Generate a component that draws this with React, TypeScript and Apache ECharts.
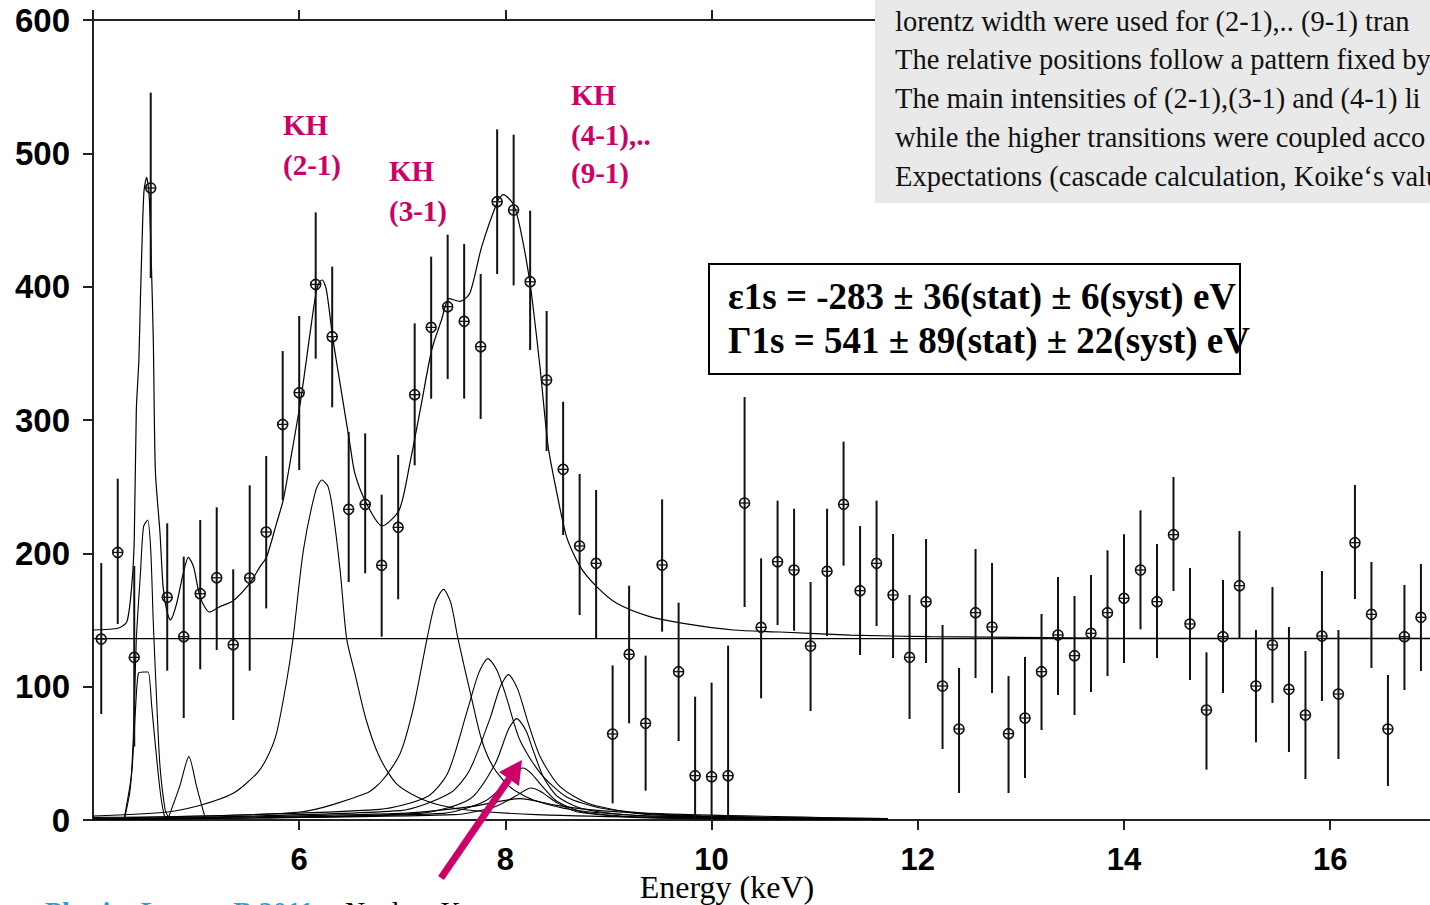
import React, { useEffect, useRef } from "react";
import * as echarts from "echarts";

// ---------- data ----------
const energies = [
  4.08, 4.24, 4.4, 4.56, 4.72, 4.88, 5.04, 5.2, 5.36, 5.52,
  5.68, 5.84, 6.0, 6.16, 6.32, 6.48, 6.64, 6.8, 6.96, 7.12,
  7.28, 7.44, 7.6, 7.76, 7.92, 8.08, 8.24, 8.4, 8.56, 8.72,
  8.88, 9.04, 9.2, 9.36, 9.52, 9.68, 9.84, 10.0, 10.16, 10.32,
  10.48, 10.64, 10.8, 10.96, 11.12, 11.28, 11.44, 11.6, 11.76, 11.92,
  12.08, 12.24, 12.4, 12.56, 12.72, 12.88, 13.04, 13.2, 13.36, 13.52,
  13.68, 13.84, 14.0, 14.16, 14.32, 14.48, 14.64, 14.8, 14.96, 15.12,
  15.28, 15.44, 15.6, 15.76, 15.92, 16.08, 16.24, 16.4, 16.56, 16.72, 16.88,
];
const counts = [
  135.7, 200.7, 122, 474, 167, 137.5, 169.7, 181.7, 131.5, 181.5,
  216, 296.7, 320.5, 401.7, 362.5, 233, 236.7, 191, 219.5, 319,
  369.5, 385, 374, 355, 463.7, 457.5, 403.7, 330, 263, 205.5,
  192.5, 64.5, 124.25, 72.5, 191.25, 111.25, 33.25, 32.5, 33.25, 237.75,
  144.5, 193.75, 187.5, 130.5, 186.5, 236.75, 172, 192.5, 168.75, 122,
  163.75, 100.5, 68.25, 155.5, 144.75, 64.75, 76.5, 111.25, 138.75, 123.25,
  140, 155.5, 166.25, 187.5, 163.75, 214, 147, 82.5, 137.5, 175.75,
  100.5, 131.25, 98, 78.75, 138, 94.5, 208, 154.25, 68.25, 137.5, 152,
];
const lowerBounds = [
  79.5, 147, 55, 406.5, 112, 76.5, 113, 127.5, 75, 112,
  158.7, 240, 262.5, 346, 309.5, 178.5, 185, 137.5, 165.5, 266,
  316, 330.75, 316, 300.75, 409.5, 401, 352.5, 276.75, 213.75, 153.75,
  136.25, 12.5, 72.5, 22, 141.25, 59.25, 0, 0, 0, 159.75,
  91.25, 146.25, 142, 81.75, 138, 190.75, 123.75, 145.5, 121.5, 75.75,
  117.75, 53.25, 20.25, 106.5, 95.25, 20.25, 31.5, 67.5, 93.75, 78.75,
  96, 108, 117.75, 143, 121.5, 171.75, 105, 37.75, 95.25, 136.5,
  58.25, 87.75, 51, 30.75, 89.25, 45.75, 165.75, 114, 25.5, 97.5, 111.75,
];
const upperBounds = [
  192.7, 256, 190.5, 545.5, 222.5, 197.5, 225, 234.5, 188, 251,
  273, 351.7, 378, 455.7, 415, 291, 290, 244, 273.75, 372.5,
  422.5, 439, 432, 409.5, 518, 514, 457, 381.75, 313.7, 259.5,
  247.5, 116, 175.75, 123.25, 240.5, 163, 92.5, 103, 130.75, 317.25,
  196.25, 239.5, 233.5, 178.5, 233.5, 283.75, 220.5, 239.5, 214.5, 168.75,
  210.75, 146.25, 114, 203.25, 192.75, 108, 122.25, 154.5, 182.25, 168,
  183.75, 202.25, 214.25, 232.25, 207, 257.25, 189, 125.75, 180, 216.75,
  142.5, 174.75, 144.75, 126.75, 186.75, 142.5, 251.25, 193.5, 108.75, 176.25, 192,
];

const fitCurve = [
  [4.0, 142.5], [4.25, 144], [4.33, 149], [4.375, 175], [4.4, 210], [4.42, 307],
  [4.445, 345], [4.46, 391], [4.48, 444], [4.495, 472], [4.52, 482], [4.545, 468],
  [4.565, 420], [4.585, 360], [4.605, 262], [4.65, 215], [4.68, 175], [4.715, 157],
  [4.75, 150], [4.81, 162], [4.875, 185], [4.925, 197], [4.975, 190], [5.04, 167],
  [5.13, 156], [5.23, 160], [5.36, 164.5], [5.52, 177.5], [5.62, 190], [5.685, 197.5],
  [5.78, 222.5], [5.845, 240], [5.91, 267.5], [6.015, 315], [6.105, 365], [6.165, 396],
  [6.2, 404], [6.225, 405], [6.265, 397], [6.325, 362], [6.395, 328], [6.49, 283],
  [6.54, 260], [6.655, 237], [6.805, 220.5], [6.97, 232.5], [7.075, 268], [7.18, 310],
  [7.285, 352.5], [7.38, 375], [7.455, 391], [7.56, 389], [7.655, 395], [7.77, 430],
  [7.93, 465], [7.98, 469], [8.075, 462], [8.14, 445], [8.24, 402], [8.335, 340],
  [8.415, 280], [8.5, 245], [8.595, 212], [8.725, 190], [8.885, 175], [9.08, 162.5],
  [9.4, 152.5], [9.725, 147.5], [10.21, 142.5], [10.665, 141], [11.345, 138.7],
  [12.12, 137.5], [13.77, 136.5], [17.0, 136.2],
];
const backgroundLevel = [[4.0, 136], [17.0, 136]];

const narrowLineA = [
  [4.3, 0], [4.375, 35], [4.41, 80], [4.44, 110], [4.49, 111], [4.535, 111],
  [4.57, 85], [4.6, 60], [4.65, 22.5], [4.69, 3.75], [4.72, 0],
];
const narrowLineB = [
  [4.3, 0], [4.31, 2.5], [4.36, 22.5], [4.39, 60], [4.42, 135], [4.46, 185],
  [4.49, 220], [4.53, 225], [4.56, 202.5], [4.585, 147.5], [4.62, 85], [4.65, 40],
  [4.7, 7.5], [4.73, 2.5], [4.76, 0],
];
const narrowLineC = [
  [4.72, 0], [4.73, 1.5], [4.84, 25], [4.93, 47.5], [5.005, 25], [5.085, 2.5], [5.1, 0],
];
const kh21 = [
  [4.0, 3], [4.72, 6], [5.04, 11], [5.36, 20], [5.59, 35], [5.69, 47], [5.78, 65],
  [5.88, 105], [5.94, 136], [6.04, 202], [6.16, 247], [6.22, 255], [6.28, 250],
  [6.33, 230], [6.4, 185], [6.46, 136], [6.54, 110], [6.65, 75], [6.78, 47],
  [6.94, 27.5], [7.14, 17.5], [7.37, 11], [7.63, 7.5], [8.3, 4], [9.5, 2], [11.71, 1],
];
const kh31 = [
  [4.0, 2], [6.01, 6], [6.65, 20], [6.81, 30], [6.98, 50], [7.11, 85], [7.24, 136],
  [7.32, 163], [7.4, 173], [7.47, 163], [7.54, 136], [7.67, 92], [7.77, 60],
  [7.88, 40], [8.04, 25], [8.27, 15], [8.66, 7.5], [9.4, 3], [11.71, 1],
];
const kh41 = [
  [4.0, 1], [6.78, 8], [7.24, 17.5], [7.44, 35], [7.63, 82], [7.74, 110], [7.83, 121],
  [7.92, 112], [8.01, 92], [8.14, 60], [8.34, 35], [8.59, 17.5], [8.92, 9], [9.4, 5], [11.71, 1],
];
const kh51 = [
  [4.0, 1], [6.98, 7], [7.46, 20], [7.65, 37], [7.85, 76], [7.95, 100], [8.03, 109],
  [8.12, 98], [8.22, 73], [8.34, 47], [8.53, 25], [8.82, 12], [9.4, 4], [11.71, 1],
];
const kh61 = [
  [4.0, 0.5], [7.17, 5], [7.66, 16], [7.9, 42], [8.03, 68], [8.11, 76], [8.2, 67],
  [8.27, 52], [8.37, 32], [8.5, 18], [8.69, 10], [8.92, 6], [9.4, 3], [11.71, 0.5],
];
const kh71 = [
  [4.0, 0.5], [7.4, 5], [7.8, 14], [8.0, 27], [8.1, 36], [8.17, 39], [8.25, 35],
  [8.35, 26], [8.5, 14], [8.75, 6], [9.4, 2], [11.71, 0.5],
];
const kh81 = [
  [4.0, 0.5], [7.5, 4], [7.9, 10], [8.1, 18], [8.25, 24], [8.35, 21], [8.5, 13],
  [8.7, 6], [9.4, 1.5], [11.71, 0.5],
];
const kh91 = [
  [4.0, 0.5], [6.98, 5], [7.66, 10], [8.14, 16], [8.5, 11], [8.92, 7], [9.9, 3], [11.71, 0.5],
];

const xAxisMin = 4;
const xAxisMax = 17;
const xTickStep = 2;
const yAxisMin = 0;
const yAxisMax = 600;
const yTickStep = 100;

const infoLines = [
  "lorentz width were used for (2-1),.. (9-1) tran",
  "The relative positions follow a pattern fixed by",
  "The main intensities of (2-1),(3-1) and (4-1) li",
  "while the higher transitions were coupled acco",
  "Expectations (cascade calculation, Koike\u2018s valu",
];
const resultLines = [
  "\u03b51s = -283 \u00b1 36(stat) \u00b1 6(syst) eV",
  "\u03931s = 541 \u00b1 89(stat) \u00b1 22(syst) eV",
];

const MAGENTA = "#CC0066";
const SERIF = '"Liberation Serif", "Times New Roman", serif';

function curve(data: number[][], width = 1.1) {
  return {
    type: "line",
    data,
    symbol: "none",
    showSymbol: false,
    smooth: 0.25,
    silent: true,
    clip: true,
    lineStyle: { color: "#000", width },
    z: 3,
  };
}

function txt(text: string, x: number, y: number, font: string, fill: string, align = "left", valign = "middle") {
  return {
    type: "text",
    x,
    y,
    z: 120,
    silent: true,
    style: {
      text,
      font,
      fill,
      align,
      textAlign: align,
      verticalAlign: valign,
      textVerticalAlign: valign,
    },
  };
}

export default function App() {
  const ref = useRef<HTMLDivElement>(null);

  useEffect(() => {
    if (!ref.current) return;
    const chart = echarts.init(ref.current, null, { renderer: "svg" });

    const points = energies.map((e, i) => [e, counts[i], lowerBounds[i], upperBounds[i]]);

    const axisLineStyle = { color: "#222", width: 2 };

    const option: any = {
      animation: false,
      backgroundColor: "#fff",
      grid: {
        left: 93,
        top: 20,
        right: 6.7,
        bottom: 85,
        containLabel: false,
        outerBoundsMode: "none",
      },
      xAxis: [
        {
          type: "value",
          position: "bottom",
          min: xAxisMin,
          max: xAxisMax,
          interval: xTickStep,
          splitLine: { show: false },
          axisLine: { show: true, onZero: false, lineStyle: axisLineStyle },
          axisTick: { show: true, length: 10, lineStyle: axisLineStyle },
          axisLabel: {
            show: true,
            showMinLabel: false,
            showMaxLabel: false,
            margin: 24,
            fontSize: 31,
            fontWeight: "bold",
            fontFamily: '"Liberation Sans", Arial, sans-serif',
            color: "#000",
          },
        },
        {
          type: "value",
          position: "top",
          min: xAxisMin,
          max: xAxisMax,
          interval: xTickStep,
          splitLine: { show: false },
          axisLine: { show: true, onZero: false, lineStyle: axisLineStyle },
          axisTick: { show: true, length: 10, lineStyle: axisLineStyle },
          axisLabel: { show: false },
        },
      ],
      yAxis: {
        type: "value",
        min: yAxisMin,
        max: yAxisMax,
        interval: yTickStep,
        splitLine: { show: false },
        axisLine: { show: true, onZero: false, lineStyle: axisLineStyle },
        axisTick: { show: true, length: 10, lineStyle: axisLineStyle },
        axisLabel: {
          margin: 23,
          fontSize: 33,
          fontWeight: "bold",
          fontFamily: '"Liberation Sans", Arial, sans-serif',
          color: "#000",
        },
      },
      series: [
        curve(backgroundLevel, 1.3),
        curve(fitCurve, 1.2),
        curve(narrowLineA),
        curve(narrowLineB),
        curve(narrowLineC),
        curve(kh21),
        curve(kh31),
        curve(kh41),
        curve(kh51),
        curve(kh61),
        curve(kh71),
        curve(kh81),
        curve(kh91),
        {
          type: "custom",
          data: points,
          clip: true,
          silent: true,
          z: 5,
          encode: { x: 0, y: 1 },
          renderItem: (_params: any, api: any) => {
            const x = api.value(0);
            const c = api.coord([x, api.value(1)]);
            const lo = api.coord([x, api.value(2)]);
            const hi = api.coord([x, api.value(3)]);
            const r = 5;
            return {
              type: "group",
              children: [
                {
                  type: "line",
                  shape: { x1: lo[0], y1: lo[1], x2: hi[0], y2: hi[1] },
                  style: { stroke: "#111", lineWidth: 2 },
                },
                {
                  type: "circle",
                  shape: { cx: c[0], cy: c[1], r },
                  style: { fill: "none", stroke: "#111", lineWidth: 1.6 },
                },
                {
                  type: "line",
                  shape: { x1: c[0] - r, y1: c[1], x2: c[0] + r, y2: c[1] },
                  style: { stroke: "#111", lineWidth: 1.3 },
                },
              ],
            };
          },
        },
      ],
      graphic: [
        // info box (top right)
        {
          type: "rect",
          z: 110,
          silent: true,
          shape: { x: 875, y: 0, width: 570, height: 203 },
          style: { fill: "#E9E9E9" },
        },
        ...infoLines.map((t, i) => txt(t, 895, 21 + i * 38.8, `28.5px ${SERIF}`, "#111")),
        // result box
        {
          type: "rect",
          z: 110,
          silent: true,
          shape: { x: 709, y: 264, width: 531, height: 110 },
          style: { fill: "#fff", stroke: "#000", lineWidth: 2 },
        },
        txt(resultLines[0], 728, 296, `bold 37px ${SERIF}`, "#000"),
        txt(resultLines[1], 728, 340, `bold 37px ${SERIF}`, "#000"),
        // KH labels
        txt("KH", 283, 125, `bold 29px ${SERIF}`, MAGENTA),
        txt("(2-1)", 283, 165, `bold 29px ${SERIF}`, MAGENTA),
        txt("KH", 389, 171, `bold 29px ${SERIF}`, MAGENTA),
        txt("(3-1)", 389, 211, `bold 29px ${SERIF}`, MAGENTA),
        txt("KH", 571, 95, `bold 29px ${SERIF}`, MAGENTA),
        txt("(4-1),..", 571, 135, `bold 29px ${SERIF}`, MAGENTA),
        txt("(9-1)", 571, 173, `bold 29px ${SERIF}`, MAGENTA),
        // arrow
        {
          type: "line",
          z: 115,
          silent: true,
          shape: { x1: 441, y1: 878, x2: 509, y2: 779 },
          style: { stroke: MAGENTA, lineWidth: 7 },
        },
        {
          type: "polygon",
          z: 115,
          silent: true,
          shape: { points: [[522, 760], [499, 772], [519, 786]] },
          style: { fill: MAGENTA },
        },
        // axis title
        txt("Energy (keV)", 727, 887, `32px ${SERIF}`, "#000", "center"),
        // cut-off footer texts
        txt("Physics Letters B 2011", 45, 897, `bold 28px ${SERIF}`, "#1AA3D3", "left", "top"),
        txt("Nuclear K", 345, 897, `28px ${SERIF}`, "#000", "left", "top"),
      ],
    };

    chart.setOption(option);
    return () => chart.dispose();
  }, []);

  return (
    <div
      ref={ref}
      style={{ position: "fixed", left: 0, top: 0, width: 1440, height: 905, background: "#fff" }}
    />
  );
}
